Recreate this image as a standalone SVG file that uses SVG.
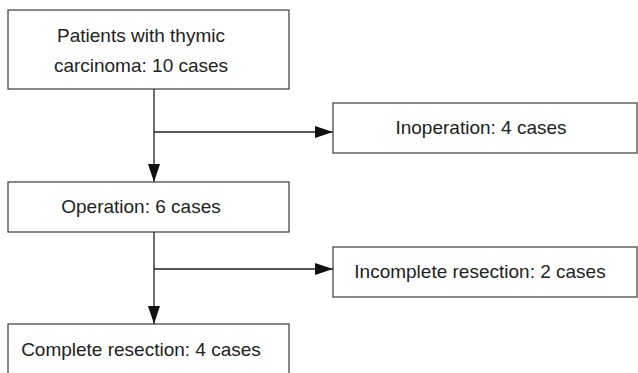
<svg xmlns="http://www.w3.org/2000/svg" width="638" height="373" viewBox="0 0 638 373">
<style>
.box{fill:#fff;stroke:#3a3a3a;stroke-width:1.2}
.t{font-family:"Liberation Sans",Arial,sans-serif;font-size:19px;fill:#222;text-anchor:middle}
.c{stroke:#222;stroke-width:1.3;fill:none}
</style>
<defs>
<marker id="b" markerWidth="18" markerHeight="12" refX="18" refY="6" orient="auto" markerUnits="userSpaceOnUse" viewBox="0 0 18 12">
<path d="M0,0 L18,6 L0,12 z" fill="#111"/>
</marker>
</defs>
<rect width="638" height="373" fill="#fff"/>
<g id="connectors">
<path class="c" d="M154,89 V182" marker-end="url(#b)"/>
<path class="c" d="M154,132 H333" marker-end="url(#b)"/>
<path class="c" d="M154,232 V324" marker-end="url(#b)"/>
<path class="c" d="M154,269 H333" marker-end="url(#b)"/>
</g>
<g id="n1"><rect class="box" x="8" y="10" width="281" height="79"/>
<text class="t" x="141" y="42">Patients with thymic</text>
<text class="t" x="141" y="72">carcinoma: 10 cases</text></g>
<g id="n2"><rect class="box" x="333" y="103" width="304" height="50"/>
<text class="t" x="481" y="134">Inoperation: 4 cases</text></g>
<g id="n3"><rect class="box" x="8" y="182" width="281" height="50"/>
<text class="t" x="141" y="213">Operation: 6 cases</text></g>
<g id="n4"><rect class="box" x="333" y="247" width="304" height="50"/>
<text class="t" x="480" y="278">Incomplete resection: 2 cases</text></g>
<g id="n5"><rect class="box" x="8" y="324" width="281" height="60"/>
<text class="t" x="141" y="356">Complete resection: 4 cases</text></g>
</svg>
